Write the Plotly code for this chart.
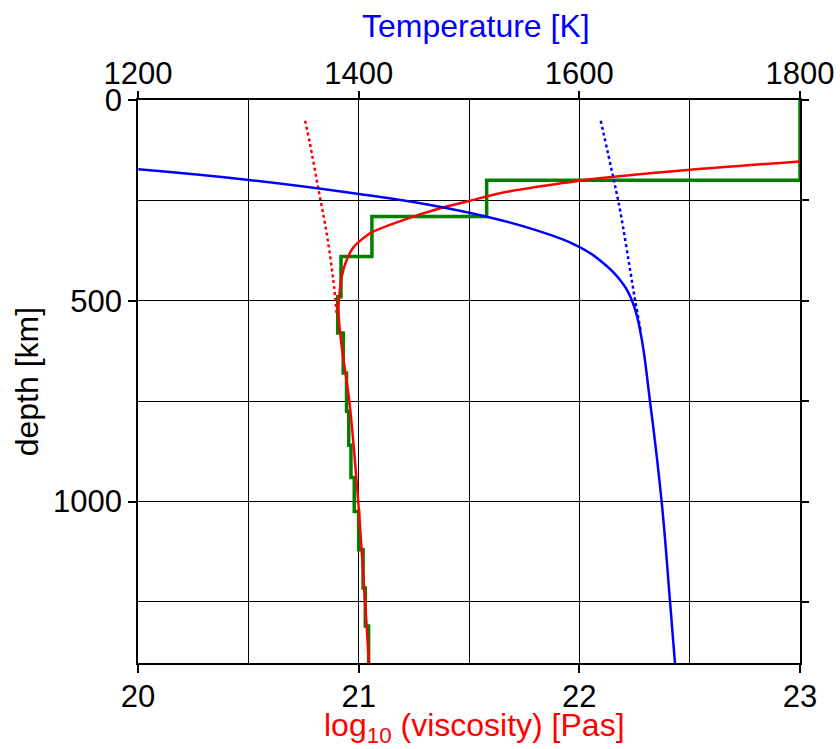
import plotly.graph_objects as go

# Stepped layered viscosity model: layer bottoms (km) and log10 viscosity per layer
layer_bottom_km = [200, 290, 390, 490, 580, 680, 775, 860, 940, 1025, 1120, 1215, 1310, 1402]
layer_log_visc = [23.0, 21.58, 21.06, 20.92, 20.905, 20.93, 20.945, 20.955, 20.965, 20.98, 21.0, 21.02, 21.03, 21.045]

# Continuous viscosity profile
visc_depth_km = [153, 174, 201, 232, 251, 272, 299, 332, 367, 398, 440, 520, 600, 752, 1000, 1250, 1402]
visc_log = [23.0, 22.5, 22.0, 21.64, 21.505, 21.354, 21.202, 21.051, 20.976, 20.946, 20.923,
            20.908, 20.92, 20.958, 20.998, 21.029, 21.047]

# Shallow viscosity branch (dotted)
visc_dot_depth_km = [51.5, 108, 220, 332, 448, 531]
visc_dot_log = [20.757, 20.779, 20.817, 20.855, 20.885, 20.90]

# Temperature profile
temp_depth_km = [172.6, 199.2, 234.1, 261.5, 290.6, 321.0, 363.0, 405.9, 448.2, 498.0, 572.7,
                 751.2, 1000.2, 1249.3, 1402.6]
temp_K = [1200.3, 1300.6, 1400.3, 1464.7, 1516.0, 1557.0, 1598.0, 1621.6, 1636.9, 1647.5, 1655.0,
          1664.1, 1674.6, 1682.2, 1686.7]

# Adiabat branch (dotted)
adiabat_depth_km = [51.5, 195, 274, 448, 498, 573]
adiabat_K = [1619.4, 1630.9, 1636.9, 1647.5, 1650.5, 1655.5]

visc_ticks = [20, 21, 22, 23]
temp_ticks = [1200, 1400, 1600, 1800]
depth_ticks = [0, 500, 1000]
depth_range = [1402, 0]

FONT = "Liberation Sans, Arial, Helvetica, sans-serif"

# Build the staircase path from the layer table
step_x, step_y = [], []
top = 0
for bottom, v in zip(layer_bottom_km, layer_log_visc):
    step_x += [v, v]
    step_y += [top, bottom]
    top = bottom

fig = go.Figure()
fig.add_trace(go.Scatter(x=step_x, y=step_y, mode="lines",
                         line=dict(color="#008000", width=3.5), hoverinfo="skip"))
fig.add_trace(go.Scatter(x=visc_dot_log, y=visc_dot_depth_km, mode="lines",
                         line=dict(color="#ff0000", width=2.5, dash="dot", shape="spline")))
fig.add_trace(go.Scatter(x=visc_log, y=visc_depth_km, mode="lines",
                         line=dict(color="#ff0000", width=2.5, shape="spline", smoothing=0.7)))
fig.add_trace(go.Scatter(x=adiabat_K, y=adiabat_depth_km, mode="lines", xaxis="x2", yaxis="y2",
                         line=dict(color="#0000ff", width=2.5, dash="dot", shape="spline")))
fig.add_trace(go.Scatter(x=temp_K, y=temp_depth_km, mode="lines", xaxis="x2", yaxis="y2",
                         line=dict(color="#0000ff", width=2.5, shape="spline", smoothing=1.3)))

tickfont = dict(family=FONT, size=31, color="black")

fig.update_layout(
    template="none",
    width=840, height=749,
    margin=dict(l=138, r=40, t=100, b=86, autoexpand=False),
    paper_bgcolor="white", plot_bgcolor="white",
    showlegend=False,
    font=dict(family=FONT, color="black"),
    xaxis=dict(
        range=[20, 23], tickmode="array", tickvals=visc_ticks, automargin=False,
        ticks="outside", ticklen=8, tickwidth=1.5, tickcolor="black",
        showgrid=True, gridcolor="black", gridwidth=1,
        minor=dict(dtick=0.5, tick0=20, showgrid=True, gridcolor="black", gridwidth=1, ticks=""),
        showline=True, linecolor="black", linewidth=1.5, mirror=True,
        zeroline=False, tickfont=tickfont, ticklabeloverflow="allow", ticklabelstandoff=-3,
    ),
    xaxis2=dict(
        range=[1200, 1800], overlaying="x", side="top", anchor="y2", automargin=False,
        tickmode="array", tickvals=temp_ticks,
        ticks="outside", ticklen=8, tickwidth=1.5, tickcolor="black",
        showgrid=False, zeroline=False, showline=False, tickfont=tickfont,
        ticklabeloverflow="allow", ticklabelstandoff=-5,
    ),
    yaxis=dict(
        range=depth_range, tickmode="array", tickvals=depth_ticks, automargin=False,
        ticks="outside", ticklen=8, tickwidth=1.5, tickcolor="black",
        showgrid=True, gridcolor="black", gridwidth=1,
        minor=dict(dtick=250, tick0=0, showgrid=True, gridcolor="black", gridwidth=1, ticks=""),
        showline=True, linecolor="black", linewidth=1.5, mirror=True,
        zeroline=False, tickfont=tickfont, ticklabeloverflow="allow",
    ),
    yaxis2=dict(
        range=depth_range, overlaying="y", side="right", anchor="x2", automargin=False,
        tickmode="linear", tick0=0, dtick=250,
        ticks="outside", ticklen=8, tickwidth=1.5, tickcolor="black",
        showticklabels=False, showgrid=False, zeroline=False, showline=False,
    ),
    annotations=[
        dict(text="Temperature [K]", x=0.5106, y=1.1314, xref="paper", yref="paper",
             xanchor="center", yanchor="middle", showarrow=False,
             font=dict(family=FONT, size=32, color="#0000ff")),
        dict(text="log<sub>10</sub> (viscosity) [Pas]", x=0.5076, y=-0.115, xref="paper", yref="paper",
             xanchor="center", yanchor="middle", showarrow=False,
             font=dict(family=FONT, size=32, color="#ff0000")),
        dict(text="depth [km]", x=-0.168, y=0.5, xref="paper", yref="paper", textangle=-90,
             xanchor="center", yanchor="middle", showarrow=False,
             font=dict(family=FONT, size=32, color="black")),
    ],
)

fig.write_html("out.html")
